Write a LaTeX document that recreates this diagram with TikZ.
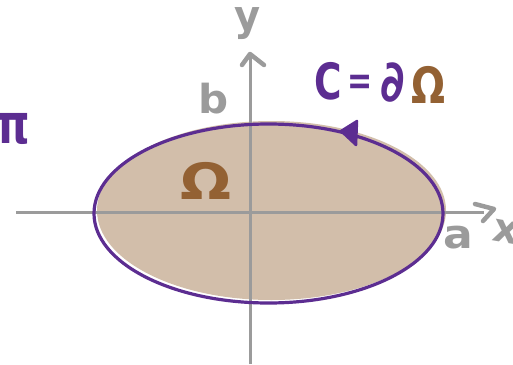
\documentclass[tikz,border=0pt]{standalone}
\usepackage{fontspec}
\setmainfont{DejaVu Sans}
\definecolor{axisgray}{HTML}{9B9B9B}
\definecolor{curvepurple}{HTML}{5C2D91}
\definecolor{regionbrown}{HTML}{936133}
\definecolor{regiontan}{HTML}{D2BEAA}
\begin{document}
\begin{tikzpicture}[x=1pt,y=-1pt,
  axis/.style={draw=axisgray, line width=3pt},
  chev/.style={draw=axisgray, line width=4.5pt, line cap=round, line join=round},
  lbl/.style={inner sep=0pt, text=axisgray, font=\bfseries\fontsize{40}{40}\selectfont},
  plbl/.style={inner sep=0pt, text=curvepurple, font=\bfseries\fontsize{50}{50}\selectfont},
  blbl/.style={inner sep=0pt, text=regionbrown, font=\bfseries\fontsize{50}{50}\selectfont}]
\useasboundingbox (0,0) rectangle (513,364);
% region
\fill[regiontan] (271.5,210.5) ellipse [x radius=174.5, y radius=89.5];
% axes
\draw[axis] (16,212) -- (484,212);
\draw[axis] (250,364) -- (250,57);
\draw[chev] (242,65) -- (250,54) -- (264,65);
\draw[chev] (475,204) -- (494,209) -- (483,221);
% boundary curve
\draw[curvepurple, line width=3.2pt] (268.5,213.5) ellipse [x radius=174.5, y radius=89.5];
\fill[curvepurple, draw=curvepurple, line width=2.5pt, line join=round] (341,131) -- (357,121) -- (356,145) -- cycle;
% labels
\node[lbl, yscale=1.05] (ylab) at (248,24) {y};
\node[lbl, xscale=1.05] (blab) at (214,99) {b};
\node[lbl, xscale=1.1] (alab) at (458,238) {a};
\node[lbl, rotate=-10] (xlab) at (506,232) {x};
\node[plbl, xscale=0.85, yscale=1.1] (pilab) at (13,129) {π};
\node[plbl, xscale=0.75] (clab) at (328,81) {C};
\node[plbl, xscale=0.6, yscale=0.8] (eqlab) at (360,85) {=};
\node[plbl, xscale=0.9, yscale=1.15] (dlab) at (393,83) {∂};
\node[blbl, xscale=0.8] (omlab) at (428,85) {Ω};
\node[blbl, xscale=1.2] (region) at (206,181) {Ω};
\end{tikzpicture}
\end{document}
